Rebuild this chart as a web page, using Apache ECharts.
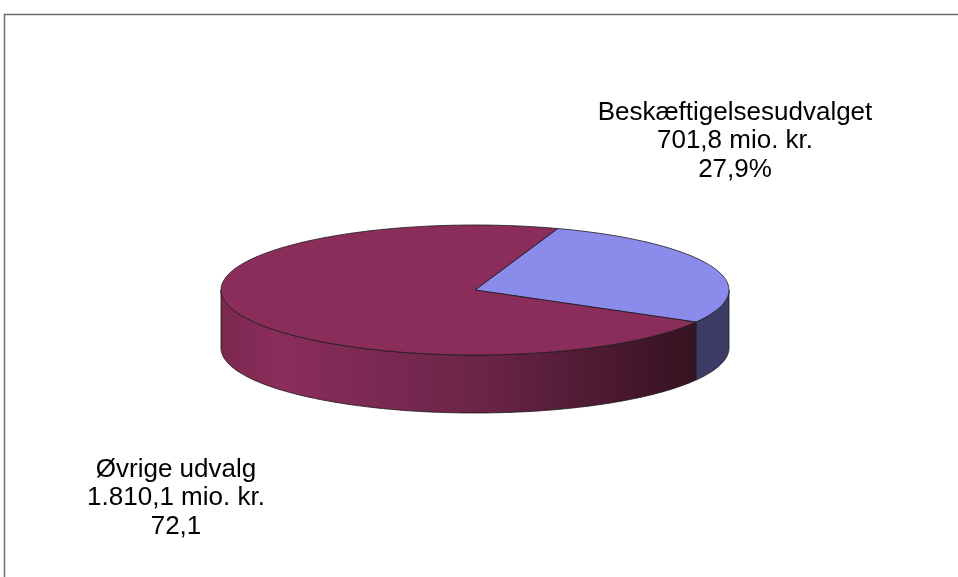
<!DOCTYPE html>
<html>
<head>
<meta charset="utf-8">
<script src="https://cdn.jsdelivr.net/npm/echarts@6/dist/echarts.min.js"></script>
<style>
  html, body { margin: 0; padding: 0; background: #fff; }
  #chart { width: 958px; height: 577px; }
</style>
</head>
<body>
<div id="chart"></div>
<script>
var names = ['Beskæftigelsesudvalget', 'Øvrige udvalg'];
var amounts = [701.8, 1810.1];
var amountLabels = ['701,8 mio. kr.', '1.810,1 mio. kr.'];
var shareLabels = ['27,9%', '72,1'];

var topColors = ['#8b8bec', '#8b2d5b'];

var chart = echarts.init(document.getElementById('chart'));

// pie geometry (screen angles, degrees, clockwise from 3 o'clock)
var pie = { cx: 475, cy: 290, rx: 254, ry: 65, depth: 58, start: -71 };
var labelPos = [[735, 141], [176, 498]];

var total = amounts.reduce(function (a, b) { return a + b; }, 0);
var angles = [];
var acc = pie.start;
amounts.forEach(function (v) {
    var span = v / total * 360;
    angles.push([acc, acc + span]);
    acc += span;
});

function pt(deg, dy) {
    var r = deg * Math.PI / 180;
    return [pie.cx + pie.rx * Math.cos(r), pie.cy + pie.ry * Math.sin(r) + (dy || 0)];
}

function arc(a0, a1, dy) {
    var pts = [];
    var n = Math.max(2, Math.ceil(Math.abs(a1 - a0)));
    for (var i = 0; i <= n; i++) {
        pts.push(pt(a0 + (a1 - a0) * i / n, dy));
    }
    return pts;
}

function sideFill(i) {
    if (i === 0) return '#3d3c66';
    return new echarts.graphic.LinearGradient(0, 0, 1, 0, [
        { offset: 0, color: '#7a2850' },
        { offset: 0.12, color: '#8b2d5c' },
        { offset: 0.55, color: '#6a2448' },
        { offset: 1, color: '#361220' }
    ]);
}

function renderItem(params, api) {
    var i = params.dataIndex;
    var a0 = angles[i][0], a1 = angles[i][1];
    var children = [];

    // visible front wall: screen angles between 0 and 180 (mod 360)
    var segs = [];
    [-360, 0, 360].forEach(function (off) {
        var s = Math.max(a0, 0 + off), e = Math.min(a1, 180 + off);
        if (e > s) segs.push([s, e]);
    });
    segs.forEach(function (sg) {
        var top = arc(sg[0], sg[1], 0);
        var bot = arc(sg[1], sg[0], pie.depth);
        children.push({
            type: 'polygon',
            z2: 1,
            shape: { points: top.concat(bot) },
            style: { fill: sideFill(i), stroke: '#1a1a1a', lineWidth: 0.8 }
        });
    });

    // top face
    children.push({
        type: 'polygon',
        z2: 10,
        shape: { points: [[pie.cx, pie.cy]].concat(arc(a0, a1, 0)) },
        style: { fill: topColors[i], stroke: '#1a1a1a', lineWidth: 0.8 }
    });

    children.push({
        type: 'text',
        z2: 20,
        x: labelPos[i][0],
        y: labelPos[i][1],
        style: {
            text: names[i] + '\n' + amountLabels[i] + '\n' + shareLabels[i],
            fill: '#000',
            font: '26px "Liberation Sans", Arial, sans-serif',
            lineHeight: 28.5,
            align: 'center',
            verticalAlign: 'middle'
        }
    });

    return { type: 'group', children: children };
}

chart.setOption({
    backgroundColor: '#fff',
    animation: false,
    graphic: [{
        type: 'rect',
        shape: { x: 4.5, y: 14.5, width: 1000, height: 1000 },
        style: { fill: 'none', stroke: '#6e6e6e', lineWidth: 1.5 },
        z: -1
    }],
    series: [{
        type: 'custom',
        coordinateSystem: 'none',
        renderItem: renderItem,
        data: amounts
    }]
});
</script>
</body>
</html>
